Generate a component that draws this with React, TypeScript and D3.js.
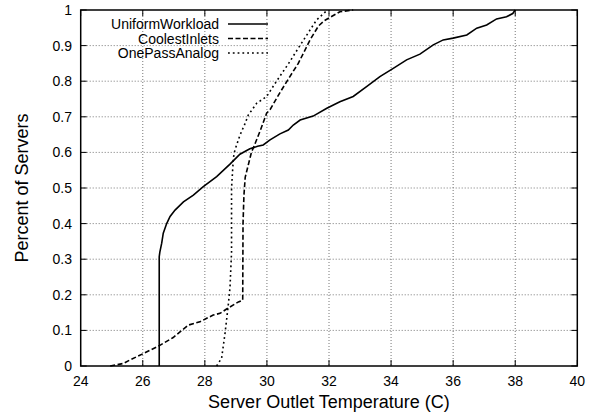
import React from "react";
import * as d3 from "d3";

const xTicks = [24, 26, 28, 30, 32, 34, 36, 38, 40];
const yTicks = [0, 0.1, 0.2, 0.3, 0.4, 0.5, 0.6, 0.7, 0.8, 0.9, 1];
const yTickLabels = ["0", "0.1", "0.2", "0.3", "0.4", "0.5", "0.6", "0.7", "0.8", "0.9", "1"];

const seriesNames = ["UniformWorkload", "CoolestInlets", "OnePassAnalog"];

const uniformT = [26.53, 26.53, 26.55, 26.61, 26.66, 26.77, 26.88, 27.04, 27.31, 27.63, 27.95, 28.38, 28.81, 29.13, 29.45, 29.7, 29.88, 30.1, 30.42, 30.69, 30.85, 31.07, 31.49, 31.93, 32.35, 32.78, 33.21, 33.64, 34.07, 34.5, 34.93, 35.36, 35.68, 36.0, 36.44, 36.76, 37.08, 37.4, 37.72, 37.92, 38.0];
const uniformP = [0, 0.307, 0.32, 0.345, 0.373, 0.4, 0.42, 0.438, 0.461, 0.48, 0.504, 0.532, 0.567, 0.595, 0.61, 0.617, 0.621, 0.635, 0.652, 0.663, 0.677, 0.691, 0.702, 0.724, 0.742, 0.757, 0.785, 0.813, 0.836, 0.86, 0.876, 0.902, 0.916, 0.921, 0.93, 0.949, 0.958, 0.975, 0.981, 0.99, 1.0];

const coolestT = [24.95, 25.37, 25.59, 26.02, 26.55, 26.98, 27.47, 27.84, 28.06, 28.27, 28.49, 28.7, 29.08, 29.22, 29.23, 29.26, 29.3, 29.4, 29.5, 29.62, 29.78, 29.99, 30.1, 30.42, 30.74, 31.01, 31.39, 31.66, 31.85, 32.03, 32.35, 32.78];
const coolestP = [0, 0.007, 0.017, 0.035, 0.058, 0.08, 0.115, 0.124, 0.134, 0.143, 0.148, 0.16, 0.18, 0.185, 0.4, 0.48, 0.53, 0.565, 0.6, 0.625, 0.66, 0.71, 0.72, 0.768, 0.813, 0.85, 0.916, 0.955, 0.97, 0.979, 0.995, 1.0];

const onePassT = [28.38, 28.54, 28.65, 28.75, 28.81, 28.86, 28.86, 28.92, 28.97, 29.13, 29.29, 29.4, 29.67, 29.99, 30.31, 30.7, 31.1, 31.6, 31.95];
const onePassP = [0, 0.022, 0.092, 0.167, 0.22, 0.32, 0.5, 0.585, 0.607, 0.648, 0.68, 0.705, 0.738, 0.757, 0.8, 0.85, 0.905, 0.972, 1.0];

const dashes = ["none", "5,2.5", "1.8,3"];

export default function App() {
  const W = 593, H = 414;
  const left = 80.7, right = 577.3, top = 10, bottom = 366;
  const x = d3.scaleLinear().domain([24, 40]).range([left, right]);
  const y = d3.scaleLinear().domain([0, 1]).range([bottom, top]);
  const line = d3.line<[number, number]>().x(d => x(d[0])).y(d => y(d[1]));
  const series = [
    uniformT.map((t, i) => [t, uniformP[i]] as [number, number]),
    coolestT.map((t, i) => [t, coolestP[i]] as [number, number]),
    onePassT.map((t, i) => [t, onePassP[i]] as [number, number]),
  ];
  const font = "'Liberation Sans', Arial, Helvetica, sans-serif";
  const tickLen = 6;
  return (
    <svg width={W} height={H} style={{ position: "absolute", left: 0, top: 0, background: "#fff" }} fontFamily={font}>
      <rect x={0} y={0} width={W} height={H} fill="#fff" />
      {/* grid */}
      {xTicks.slice(1, -1).map(t => (
        <line key={"gx" + t} x1={x(t)} x2={x(t)} y1={top} y2={bottom} stroke="#777" strokeWidth={1} strokeDasharray="1,2" />
      ))}
      {yTicks.slice(1, -1).map(t => (
        <line key={"gy" + t} x1={left} x2={right} y1={y(t)} y2={y(t)} stroke="#777" strokeWidth={1} strokeDasharray="1,2" />
      ))}
      {/* ticks */}
      {xTicks.map(t => (
        <g key={"tx" + t}>
          <line x1={x(t)} x2={x(t)} y1={bottom} y2={bottom - tickLen} stroke="#000" strokeWidth={1} />
          <line x1={x(t)} x2={x(t)} y1={top} y2={top + tickLen} stroke="#000" strokeWidth={1} />
          <text x={x(t)} y={386} textAnchor="middle" fontSize={14}>{t}</text>
        </g>
      ))}
      {yTicks.map((t, i) => (
        <g key={"ty" + t}>
          <line x1={left} x2={left + tickLen} y1={y(t)} y2={y(t)} stroke="#000" strokeWidth={1} />
          <line x1={right} x2={right - tickLen} y1={y(t)} y2={y(t)} stroke="#000" strokeWidth={1} />
          <text x={72} y={y(t)} dy="0.36em" textAnchor="end" fontSize={14}>{yTickLabels[i]}</text>
        </g>
      ))}
      {/* curves */}
      {series.map((s, i) => (
        <path key={"s" + i} d={line(s) || ""} fill="none" stroke="#000" strokeWidth={1.6} strokeDasharray={dashes[i]} />
      ))}
      {/* border */}
      <rect x={left} y={top} width={right - left} height={bottom - top} fill="none" stroke="#000" strokeWidth={1.5} />
      {/* legend */}
      {seriesNames.map((n, i) => {
        const ly = 24 + i * 14.5;
        return (
          <g key={"lg" + i}>
            <text x={219} y={ly} dy="0.36em" textAnchor="end" fontSize={14}>{n}</text>
            <line x1={228} x2={268} y1={ly} y2={ly} stroke="#000" strokeWidth={1.6} strokeDasharray={dashes[i]} />
          </g>
        );
      })}
      {/* axis titles */}
      <text x={(left + right) / 2} y={408} textAnchor="middle" fontSize={18}>Server Outlet Temperature (C)</text>
      <text transform={`translate(28,${(top + bottom) / 2}) rotate(-90)`} textAnchor="middle" fontSize={18}>Percent of Servers</text>
    </svg>
  );
}
